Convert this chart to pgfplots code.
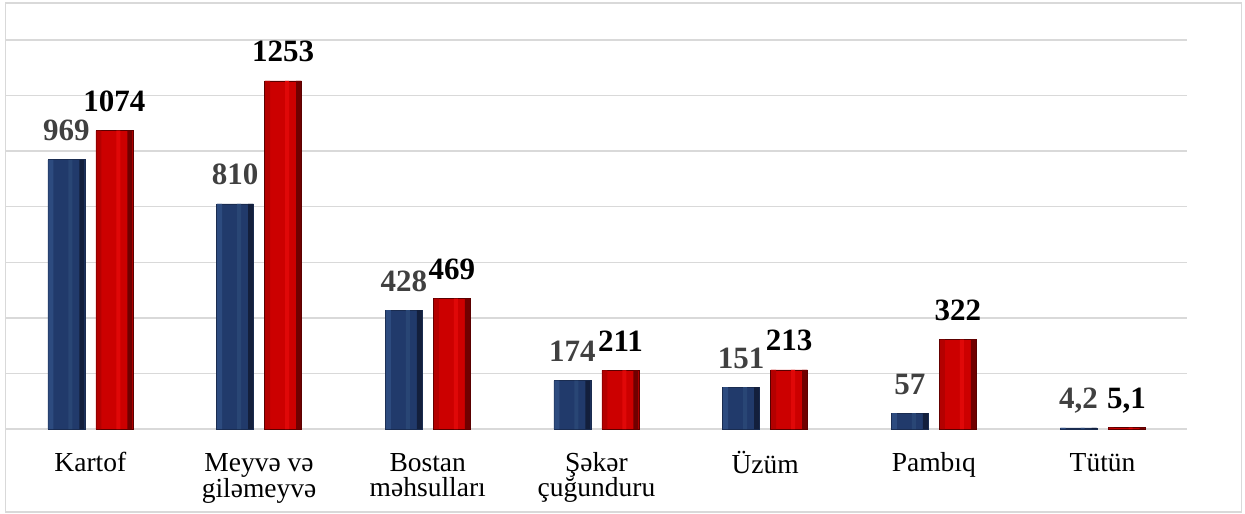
\documentclass[border=0pt]{standalone}
\usepackage{pgfplots}
\pgfplotsset{compat=1.18}
\usepackage{fontspec}
\setmainfont{Liberation Serif}
\definecolor{gridgray}{HTML}{D9D9D9}
\definecolor{navyL}{HTML}{2D4B7F}
\definecolor{navyM}{HTML}{213A6B}
\definecolor{navyS}{HTML}{294675}
\definecolor{navyD}{HTML}{131F3C}
\definecolor{navyB}{HTML}{1A2C50}
\definecolor{redL}{HTML}{B40000}
\definecolor{redM}{HTML}{CC0000}
\definecolor{redS}{HTML}{E00808}
\definecolor{redD}{HTML}{700000}
\definecolor{redB}{HTML}{5A0000}
\definecolor{lblgray}{HTML}{404040}
\newcommand{\TL}[1]{\rule{0pt}{20pt}#1}
\pgfplotstableread{
x y l
0 969 969
1 810 810
2 428 428
3 174 174
4 151 151
5 57 57
6 4.2 {4,2}
}\blue
\pgfplotstableread{
x y l
0 1074 1074
1 1253 1253
2 469 469
3 211 211
4 213 213
5 322 322
6 5.1 {5,1}
}\red
\begin{document}
\begin{tikzpicture}
\path[use as bounding box] (-6pt,-85pt) rectangle (1239pt,429pt);
\draw[gridgray, line width=1.6pt] (-0.5pt,-83pt) rectangle (1235.5pt,426pt);
\begin{axis}[
  at={(0,0)}, anchor=south west,
  scale only axis, width=1181pt, height=389pt,
  xmin=-0.5, xmax=6.5, ymin=0, ymax=1400,
  ybar, bar width=37pt,
  axis line style={draw=none},
  major tick length=0pt,
  ytick={0,200,...,1400}, yticklabels={},
  ymajorgrids, grid style={draw=gridgray, line width=1.3pt},
  xtick={0,...,6},
  xticklabels={\TL{Kartof}, \TL{Meyvə və}\\giləmeyvə, \TL{Bostan}\\məhsulları, \TL{Şəkər}\\çuğunduru, \TL{Üzüm}, \TL{Pambıq}, \TL{Tütün}},
  xticklabel style={align=center, anchor=north, inner sep=0pt, yshift=-22pt, font=\fontsize{27.5}{25}\selectfont},
  point meta=explicit symbolic,
  every node near coord/.append style={anchor=base, yshift=19pt, inner sep=0pt, font=\fontsize{31}{31}\selectfont\bfseries},
  clip=false,
]
% blue series
\addplot[fill=navyM, draw=navyB, line width=0.6pt, bar shift=-24pt, bar width=37pt]
  table[x=x, y=y] {\blue};
\addplot[fill=navyL, draw=none, bar shift=-39.5pt, bar width=5pt]
  table[x=x, y=y] {\blue};
\addplot[fill=navyS, draw=none, bar shift=-20pt, bar width=4pt]
  table[x=x, y=y] {\blue};
\addplot[fill=navyD, draw=none, bar shift=-8.5pt, bar width=5pt]
  table[x=x, y=y] {\blue};
\addplot[draw=none, fill=none, bar shift=-24pt, bar width=37pt,
  nodes near coords, every node near coord/.append style={text=lblgray}]
  table[x=x, y=y, meta=l] {\blue};
% red series
\addplot[fill=redM, draw=redB, line width=0.6pt, bar shift=24pt, bar width=37pt]
  table[x=x, y=y] {\red};
\addplot[fill=redL, draw=none, bar shift=8.5pt, bar width=5pt]
  table[x=x, y=y] {\red};
\addplot[fill=redS, draw=none, bar shift=28pt, bar width=4pt]
  table[x=x, y=y] {\red};
\addplot[fill=redD, draw=none, bar shift=39.5pt, bar width=5pt]
  table[x=x, y=y] {\red};
\addplot[draw=none, fill=none, bar shift=24pt, bar width=37pt,
  nodes near coords, every node near coord/.append style={text=black}]
  table[x=x, y=y, meta=l] {\red};
\end{axis}
\end{tikzpicture}
\end{document}
